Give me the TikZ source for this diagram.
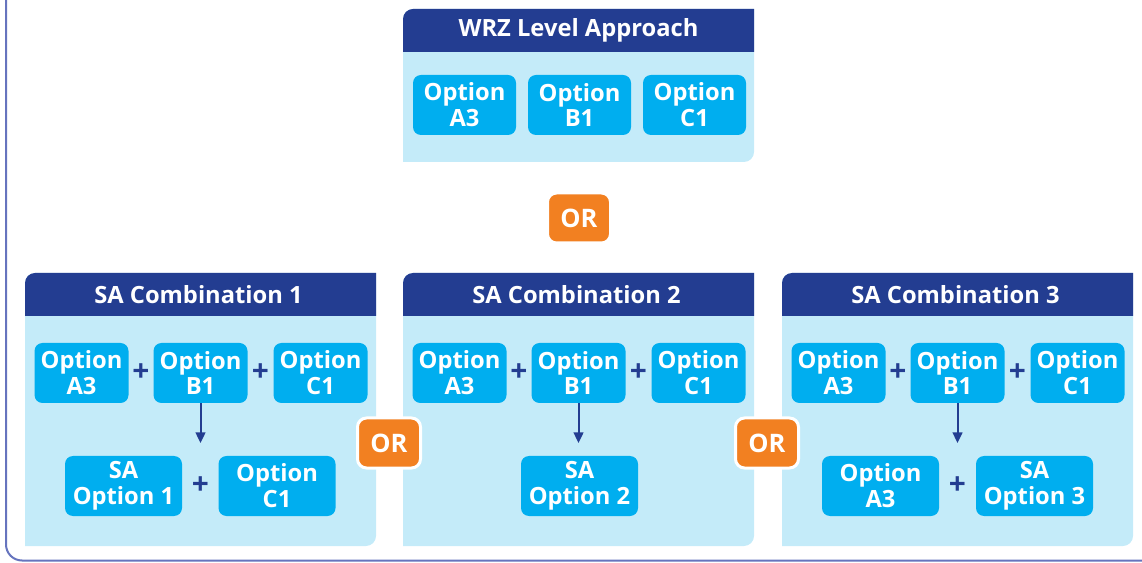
\documentclass[tikz,border=0pt]{standalone}
\usepackage{fontspec}
\setmainfont{Open Sans}
\usetikzlibrary{arrows.meta}

\definecolor{hdrblue}{HTML}{233D91}
\definecolor{panelblue}{HTML}{C4EBF9}
\definecolor{optblue}{HTML}{00AEEF}
\definecolor{ororange}{HTML}{F28021}
\definecolor{framelilac}{HTML}{6674BE}

\newdimen\px \px=0.02cm

\tikzset{
    opt/.style={fill=optblue,text=white,rounded corners=8\px,inner sep=0pt,
        minimum width=94\px,minimum height=60\px,align=center,
        font=\fontsize{13.5}{14.7}\selectfont\bfseries},
    wideopt/.style={opt,minimum width=117\px},
    topopt/.style={opt,minimum width=103\px},
    plus/.style={text=hdrblue,inner sep=0pt,font=\fontsize{17}{17}\selectfont\bfseries},
    orbox/.style={fill=ororange,draw=white,line width=3\px,rounded corners=9\px,
        minimum width=63\px,minimum height=50\px,inner sep=0pt,text=white,
        font=\fontsize{14.5}{14.5}\selectfont\bfseries},
    title/.style={text=white,inner sep=0pt,font=\fontsize{13.5}{14}\selectfont\bfseries},
    down/.style={draw=hdrblue,line width=2\px,-{Triangle[length=6pt,width=5.5pt]}}
}

\begin{document}
\begin{tikzpicture}[x=0.02cm,y=-0.02cm]
    \useasboundingbox (0,0) rectangle (1142,563);
    \clip (0,0) rectangle (1142,563);

    % outer frame, only left and bottom show
    \draw [framelilac,line width=2\px,rounded corners=16\px] (6,-40) rectangle (1180,560.5);

    % top panel
    \fill [panelblue] (403,162) [rounded corners=10\px] -- (403,9) [sharp corners] --
                      (754,9) [rounded corners=10\px] -- (754,162) [sharp corners] -- cycle;
    \fill [hdrblue] (403,52) [rounded corners=10\px] -- (403,9) [sharp corners] --
                    (754,9) -- (754,52) -- cycle;
    \node [title] (wrz) at (578.5,30.5) {WRZ Level Approach};
    \node [topopt] (wrz-a3) at (464.5,105) {Option\\A3};
    \node [topopt] (wrz-b1) at (579.5,105) {Option\\B1};
    \node [topopt] (wrz-c1) at (694.5,105) {Option\\C1};

    \node [orbox] (or0) at (579,218) {OR};

    % SA panels
    % X % 200.5  578.5  957.5
    \foreach \i/\cx in {1/200.5,2/578.5,3/957.5}
    {
        \fill [panelblue] (\cx-175.5,546) [rounded corners=10\px] -- (\cx-175.5,273) [sharp corners] --
                          (\cx+175.5,273) [rounded corners=10\px] -- (\cx+175.5,546) [sharp corners] -- cycle;
        \fill [hdrblue] (\cx-175.5,316) [rounded corners=10\px] -- (\cx-175.5,273) [sharp corners] --
                        (\cx+175.5,273) -- (\cx+175.5,316) -- cycle;
        \node [title] (sa\i) at (\cx-2,294.5) {SA Combination \i};
        \node [opt] (sa\i-a3) at (\cx-119,373) {Option\\A3};
        \node [opt] (sa\i-b1) at (\cx,373) {Option\\B1};
        \node [opt] (sa\i-c1) at (\cx+120,373) {Option\\C1};
        \node [plus] (sa\i-p1) at (\cx-59.5,373) {+};
        \node [plus] (sa\i-p2) at (\cx+60,373) {+};
        \coordinate (sa\i-down) at (\cx,443);
        \draw [down] (sa\i-b1) -- (sa\i-down);
    }

    % second rows
    \node [wideopt] (sa1-sa) at (123.5,486) {SA\\Option 1};
    \node [plus] (sa1-p3) at (200.5,486) {+};
    \node [wideopt] (sa1-c1b) at (277,486) {Option\\C1};

    \node [wideopt] (sa2-sa) at (579.5,486) {SA\\Option 2};

    \node [wideopt] (sa3-a3b) at (880.5,486) {Option\\A3};
    \node [plus] (sa3-p3) at (957.5,486) {+};
    \node [wideopt] (sa3-sa) at (1034.5,486) {SA\\Option 3};

    \node [orbox] (or1) at (389,443) {OR};
    \node [orbox] (or2) at (767,443) {OR};
\end{tikzpicture}
\end{document}
